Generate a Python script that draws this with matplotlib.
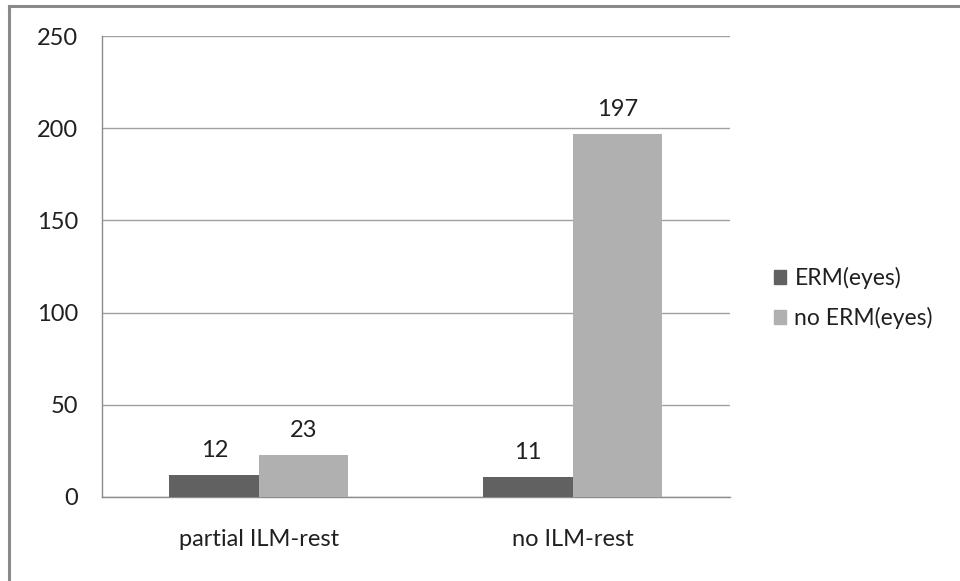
import numpy as np
import matplotlib.pyplot as plt
from matplotlib.lines import Line2D
from matplotlib.patches import Patch

categories = ['partial ILM-rest', 'no ILM-rest']
erm = [12, 11]
no_erm = [23, 197]
series_names = ['ERM(eyes)', 'no ERM(eyes)']
yticks = [0, 50, 100, 150, 200, 250]

dark = '#616161'
light = '#b0b0b0'

plt.rcParams['font.family'] = ['Lato', 'DejaVu Sans']

fig = plt.figure(figsize=(9.6, 5.81), dpi=100)
ax = fig.add_axes([0.10625, 0.1446, 0.654, 0.7934])

x = np.arange(len(categories))
w = 0.285
b1 = ax.bar(x - w / 2, erm, w, color=dark, zorder=3)
b2 = ax.bar(x + w / 2, no_erm, w, color=light, zorder=3)

for bars, vals in [(b1, erm), (b2, no_erm)]:
    for rect, v in zip(bars, vals):
        ax.annotate(str(v), (rect.get_x() + rect.get_width() / 2, v),
                    xytext=(0, 10), textcoords='offset points',
                    ha='center', va='bottom', fontsize=17, color='#202020')

ax.set_xlim(-0.5, 1.5)
ax.set_ylim(0, 250)
ax.set_yticks(yticks)
ax.set_xticks(x)
ax.set_xticklabels(categories)
ax.tick_params(axis='both', length=0, labelsize=17, labelcolor='#202020')
ax.tick_params(axis='y', pad=17)
ax.tick_params(axis='x', pad=23)
ax.yaxis.grid(True, color='#a0a0a0', linewidth=1, zorder=0)
for side in ['top', 'right']:
    ax.spines[side].set_visible(False)
for side in ['left', 'bottom']:
    ax.spines[side].set_color('#8c8c8c')
    ax.spines[side].set_linewidth(1)

handles = [Patch(color=dark), Patch(color=light)]
leg = fig.legend(handles, series_names, loc='center left',
                 bbox_to_anchor=(0.806, 0.487), frameon=False, fontsize=16.5,
                 handlelength=0.55, handleheight=0.55, handletextpad=0.35,
                 labelspacing=0.8, labelcolor='#202020',
                 borderpad=0, borderaxespad=0)

# outer chart frame
fig.add_artist(Line2D([8.5 / 960, 8.5 / 960], [0, 1 - 6 / 581],
                      transform=fig.transFigure, color='#8a8a8a', linewidth=2.2))
fig.add_artist(Line2D([8.5 / 960, 1], [1 - 6 / 581, 1 - 6 / 581],
                      transform=fig.transFigure, color='#8a8a8a', linewidth=2.2))

fig.savefig('out.png', dpi=100)
